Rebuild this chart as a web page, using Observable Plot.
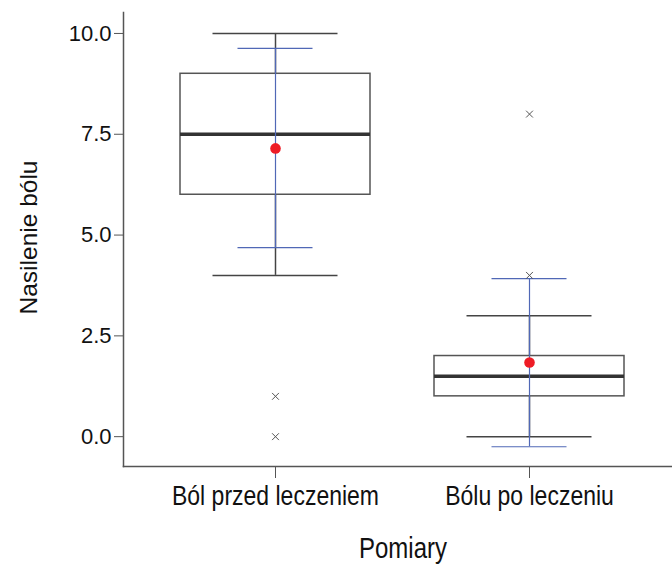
<!DOCTYPE html>
<html><head><meta charset="utf-8">
<script src="https://cdn.jsdelivr.net/npm/d3@7"></script>
<script src="https://cdn.jsdelivr.net/npm/@observablehq/plot@0.6"></script>
<style>body{margin:0;background:#fff} svg{font-family:"Liberation Sans",Arial,sans-serif}</style>
</head><body><div id="chart"></div>
<script>
const categories = ["Ból przed leczeniem", "Bólu po leczeniu"];
const whiskerLow = [4, 0];
const q1 = [6, 1];
const median = [7.5, 1.5];
const q3 = [9, 2];
const whiskerHigh = [10, 3];
const means = [7.15, 1.84];
const ciLow = [4.69, -0.25];
const ciHigh = [9.63, 3.92];
const outlierCategory = ["Ból przed leczeniem", "Ból przed leczeniem", "Bólu po leczeniu", "Bólu po leczeniu"];
const outlierValues = [1, 0, 8, 4];
const yTicks = [0, 2.5, 5, 7.5, 10];
const xLabel = "Pomiary";
const yLabel = "Nasilenie bólu";

const stats = categories.map((c, i) => ({
  c, lo: whiskerLow[i], q1: q1[i], med: median[i], q3: q3[i], hi: whiskerHigh[i],
  mean: means[i], ciLo: ciLow[i], ciHi: ciHigh[i]
}));
const outliers = outlierValues.map((v, i) => ({c: outlierCategory[i], v}));

const blue = "#5068b6";
const dark = "#444";

const chart = Plot.plot({
  width: 672,
  height: 564,
  marginLeft: 123,
  marginRight: 0,
  marginTop: 12,
  marginBottom: 98,
  style: {fontFamily: "Liberation Sans, Arial, sans-serif", background: "white"},
  x: {type: "band", domain: categories, range: [115.5, 689.5], padding: 0.251, axis: null},
  y: {domain: [-0.74, 10.52], axis: null},
  marks: [
    Plot.frame({anchor: "left", stroke: "#555", strokeWidth: 1.5}),
    Plot.frame({anchor: "bottom", stroke: "#555", strokeWidth: 1.5}),
    Plot.axisY(yTicks, {tickFormat: d3.format(".1f"), tickSize: 9, tickPadding: 3, fontSize: 22, label: null, stroke: "#555", fill: "#111"}),
    Plot.axisX({tickSize: 12, tickPadding: 9, fontSize: 23, label: null, stroke: "#555", fill: "#111"}),
    Plot.ruleX(stats, {x: "c", y1: "lo", y2: "hi", stroke: dark, strokeWidth: 1.5}),
    Plot.barY(stats, {x: "c", y1: "q1", y2: "q3", fill: "white", stroke: "#555", strokeWidth: 1.5}),
    Plot.tickY(stats, {x: "c", y: "med", stroke: "#333", strokeWidth: 3.5}),
    Plot.tickY(stats, {x: "c", y: "lo", insetLeft: 32.5, insetRight: 32.5, stroke: dark, strokeWidth: 1.5}),
    Plot.tickY(stats, {x: "c", y: "hi", insetLeft: 32.5, insetRight: 32.5, stroke: dark, strokeWidth: 1.5}),
    Plot.ruleX(stats, {x: "c", y1: "ciLo", y2: "ciHi", stroke: blue, strokeWidth: 1.2}),
    Plot.tickY(stats, {x: "c", y: "ciLo", insetLeft: 57.5, insetRight: 57.5, stroke: blue, strokeWidth: 1.2}),
    Plot.tickY(stats, {x: "c", y: "ciHi", insetLeft: 57.5, insetRight: 57.5, stroke: blue, strokeWidth: 1.2}),
    Plot.dot(outliers, {x: "c", y: "v", symbol: "times", r: 3.2, stroke: "#555", strokeWidth: 1}),
    Plot.dot(stats, {x: "c", y: "mean", r: 5.3, fill: "#ee1c25", stroke: "none"}),
    Plot.text([yLabel], {frameAnchor: "left", rotate: -90, dx: -94, dy: -2, textAnchor: "middle", fontSize: 24.5, fill: "#111"}),
    Plot.text([xLabel], {frameAnchor: "bottom", dx: 5, dy: 90, textAnchor: "middle", fontSize: 24, fill: "#111"})
  ]
});
document.getElementById("chart").appendChild(chart);

// Slight vertical stretch of the horizontal labels, as in the reference
d3.select(chart).selectAll("text").each(function() {
  const t = this.textContent;
  if (categories.includes(t) || t === xLabel) {
    const b = this.getBBox();
    const cy = b.y + b.height / 2;
    const prev = this.getAttribute("transform") || "";
    this.setAttribute("transform", `${prev} translate(0,${cy}) scale(1,1.2) translate(0,${-cy})`);
  }
});
</script>
</body></html>
